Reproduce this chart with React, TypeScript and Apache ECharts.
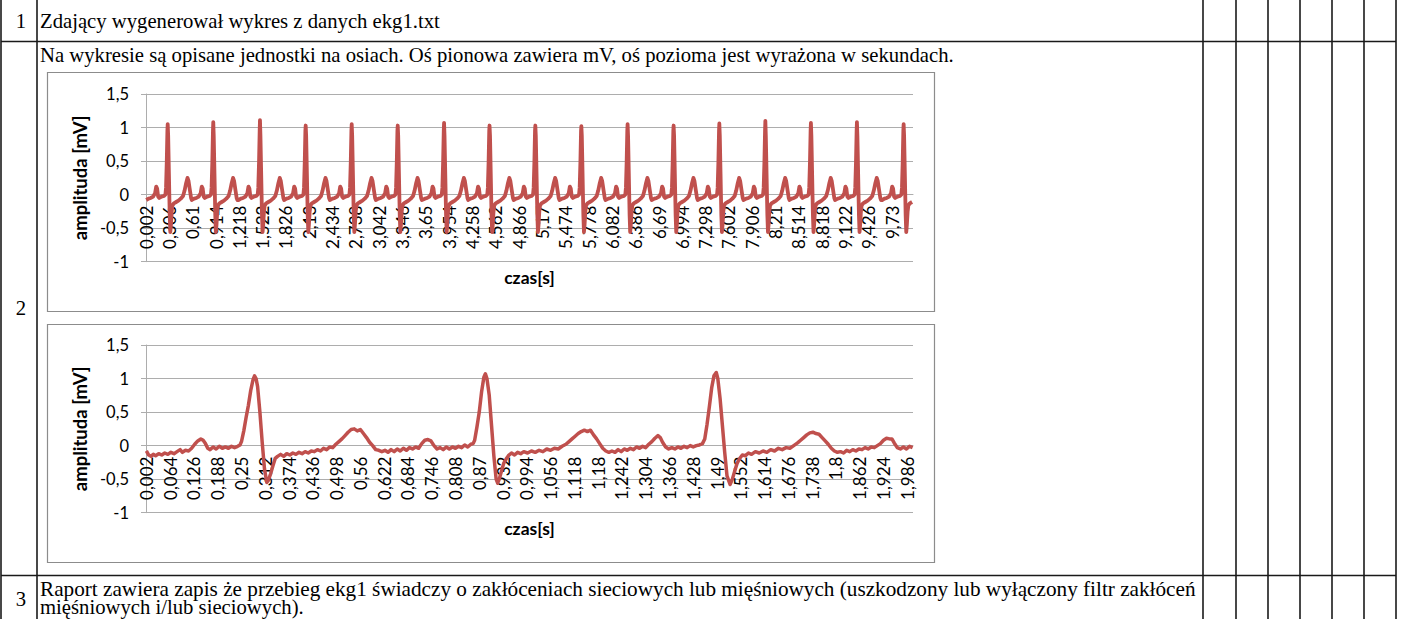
import React, { useEffect, useRef } from "react";
import * as echarts from "echarts";

// ---------- data ----------
const Y_TICKS_MIN = -1;
const Y_TICKS_MAX = 1.5;
const Y_TICKS_STEP = 0.5;

// tick labels of the 10 s chart (seconds)
const TICKS_10S = [0.002, 0.306, 0.61, 0.914, 1.218, 1.522, 1.826, 2.13, 2.434, 2.738, 3.042, 3.346, 3.65, 3.954, 4.258, 4.562, 4.866, 5.17, 5.474, 5.778, 6.082, 6.386, 6.69, 6.994, 7.298, 7.602, 7.906, 8.21, 8.514, 8.818, 9.122, 9.426, 9.73];
// tick labels of the 2 s chart (seconds)
const TICKS_2S = [0.002, 0.064, 0.126, 0.188, 0.25, 0.312, 0.374, 0.436, 0.498, 0.56, 0.622, 0.684, 0.746, 0.808, 0.87, 0.932, 0.994, 1.056, 1.118, 1.18, 1.242, 1.304, 1.366, 1.428, 1.49, 1.552, 1.614, 1.676, 1.738, 1.8, 1.862, 1.924, 1.986];

// 10 s chart: R-peak times (s) and amplitudes (mV)
const R_PEAK_TIMES = [0.284, 0.878, 1.487, 2.083, 2.683, 3.283, 3.887, 4.48, 5.077, 5.677, 6.28, 6.88, 7.476, 8.076, 8.67, 9.27, 9.879];
const R_PEAK_AMPS = [1.05, 1.08, 1.11, 1.03, 1.05, 1.03, 1.07, 1.03, 1.03, 1.02, 1.05, 1.03, 1.06, 1.1, 1.07, 1.08, 1.05];
// one beat: offset from the R peak (s), amplitude (mV); the 0 offset takes the peak amplitude
const BEAT_OFFSETS = [-0.28, -0.25, -0.22, -0.19, -0.165, -0.15, -0.138, -0.125, -0.11, -0.08, -0.05, -0.03, -0.022, -0.012, -0.004, 0, 0.006, 0.016, 0.026, 0.034, 0.042, 0.052, 0.062, 0.08, 0.11, 0.14, 0.17, 0.2, 0.22, 0.24, 0.258, 0.272, 0.29, 0.305, 0.315];
const BEAT_VALUES = [-0.08, -0.06, -0.05, -0.03, 0.02, 0.12, 0.09, -0.03, -0.05, -0.03, -0.02, 0.0, 0.1, 0.5, 0.95, 1.0, 0.88, 0.3, -0.3, -0.56, -0.45, -0.25, -0.16, -0.13, -0.11, -0.09, -0.06, -0.02, 0.06, 0.17, 0.25, 0.2, 0.06, -0.05, -0.08];

// 2 s chart: [time (s), amplitude (mV)]
const EKG_2S: [number, number][] = [
  [0.002, -0.08], [0.008, -0.14], [0.014, -0.16], [0.02, -0.13], [0.026, -0.15], [0.034, -0.12], [0.042, -0.14], [0.05, -0.11], [0.058, -0.13], [0.066, -0.1], [0.074, -0.12], [0.082, -0.09], [0.09, -0.06], [0.096, -0.1], [0.104, -0.07], [0.112, -0.08], [0.12, -0.04], [0.128, 0.02], [0.136, 0.07], [0.144, 0.1], [0.15, 0.08], [0.156, 0.03], [0.162, -0.04], [0.168, -0.06], [0.176, -0.02], [0.184, -0.05], [0.192, -0.01], [0.2, -0.04], [0.208, -0.02], [0.216, -0.04], [0.224, -0.01], [0.232, -0.03], [0.24, -0.01],
  [0.246, 0.01], [0.25, 0.06], [0.256, 0.22], [0.262, 0.42], [0.268, 0.6], [0.274, 0.82], [0.28, 0.98], [0.284, 1.04], [0.288, 1.0], [0.292, 0.88], [0.298, 0.5], [0.304, 0.05], [0.31, -0.35], [0.316, -0.55], [0.32, -0.52], [0.326, -0.42], [0.332, -0.3], [0.338, -0.19], [0.344, -0.16], [0.352, -0.13], [0.36, -0.16], [0.368, -0.12], [0.376, -0.14], [0.384, -0.11], [0.392, -0.13], [0.4, -0.1], [0.408, -0.12], [0.416, -0.09], [0.424, -0.11], [0.432, -0.08], [0.44, -0.09], [0.448, -0.06], [0.456, -0.08], [0.464, -0.04], [0.472, -0.06], [0.48, -0.02], [0.488, -0.03], [0.496, 0.02], [0.504, 0.06], [0.512, 0.1], [0.52, 0.15], [0.528, 0.2], [0.536, 0.24], [0.544, 0.25], [0.552, 0.22], [0.56, 0.24], [0.568, 0.18], [0.576, 0.12], [0.584, 0.05], [0.592, 0.0], [0.6, -0.06], [0.608, -0.07], [0.616, -0.09], [0.624, -0.07], [0.632, -0.1], [0.64, -0.06], [0.648, -0.09], [0.656, -0.05], [0.664, -0.08], [0.672, -0.04], [0.68, -0.07], [0.688, -0.03], [0.696, -0.05], [0.704, -0.02], [0.712, -0.04], [0.72, 0.03], [0.728, 0.08], [0.736, 0.09], [0.744, 0.07], [0.752, 0.0], [0.76, -0.05], [0.768, -0.03], [0.776, -0.06], [0.784, -0.02], [0.792, -0.05], [0.8, -0.02], [0.808, -0.04], [0.816, -0.01], [0.824, -0.03], [0.832, 0.01], [0.84, -0.02], [0.848, 0.02],
  [0.854, 0.03], [0.858, 0.08], [0.864, 0.28], [0.87, 0.5], [0.876, 0.8], [0.882, 1.02], [0.886, 1.07], [0.89, 1.0], [0.896, 0.75], [0.902, 0.3], [0.908, -0.15], [0.914, -0.5], [0.918, -0.56], [0.922, -0.5], [0.928, -0.38], [0.934, -0.26], [0.94, -0.2], [0.946, -0.15], [0.954, -0.11], [0.962, -0.14], [0.97, -0.1], [0.978, -0.12], [0.986, -0.09], [0.996, -0.11], [1.006, -0.08], [1.016, -0.1], [1.026, -0.07], [1.036, -0.09], [1.046, -0.05], [1.056, -0.07], [1.066, -0.04], [1.076, -0.05], [1.086, -0.01], [1.096, 0.02], [1.104, 0.06], [1.112, 0.1], [1.12, 0.14], [1.128, 0.18], [1.136, 0.21], [1.144, 0.23], [1.152, 0.21], [1.16, 0.23], [1.168, 0.16], [1.176, 0.1], [1.184, 0.03], [1.192, -0.04], [1.2, -0.08], [1.208, -0.1], [1.216, -0.08], [1.224, -0.1], [1.232, -0.06], [1.24, -0.09], [1.248, -0.05], [1.256, -0.07], [1.264, -0.04], [1.272, -0.06], [1.28, -0.02], [1.288, -0.04], [1.296, -0.01], [1.304, -0.03], [1.312, 0.02], [1.32, 0.06], [1.328, 0.11], [1.336, 0.15], [1.342, 0.12], [1.348, 0.05], [1.356, -0.02], [1.364, -0.05], [1.372, -0.03], [1.38, -0.05], [1.388, -0.02], [1.396, -0.04], [1.404, -0.01], [1.412, -0.03], [1.42, 0.0], [1.428, -0.02], [1.436, 0.0], [1.444, 0.01], [1.452, 0.03],
  [1.458, 0.1], [1.464, 0.32], [1.47, 0.58], [1.476, 0.86], [1.482, 1.04], [1.488, 1.09], [1.492, 1.0], [1.498, 0.7], [1.504, 0.3], [1.51, -0.1], [1.516, -0.45], [1.524, -0.58], [1.53, -0.5], [1.536, -0.38], [1.542, -0.27], [1.548, -0.2], [1.556, -0.14], [1.564, -0.15], [1.572, -0.11], [1.58, -0.13], [1.59, -0.09], [1.6, -0.11], [1.61, -0.08], [1.62, -0.1], [1.63, -0.06], [1.64, -0.08], [1.65, -0.04], [1.66, -0.06], [1.67, -0.03], [1.68, -0.04], [1.69, 0.0], [1.7, 0.04], [1.708, 0.08], [1.716, 0.12], [1.724, 0.16], [1.732, 0.19], [1.74, 0.2], [1.748, 0.18], [1.756, 0.17], [1.764, 0.12], [1.772, 0.07], [1.78, 0.02], [1.788, -0.04], [1.796, -0.08], [1.804, -0.1], [1.812, -0.09], [1.82, -0.11], [1.828, -0.07], [1.836, -0.09], [1.844, -0.06], [1.852, -0.08], [1.86, -0.05], [1.868, -0.06], [1.876, -0.03], [1.884, -0.05], [1.892, -0.02], [1.9, -0.03], [1.908, 0.0], [1.916, 0.03], [1.924, 0.08], [1.932, 0.11], [1.94, 0.1], [1.946, 0.1], [1.952, 0.04], [1.96, -0.03], [1.968, -0.05], [1.976, -0.02], [1.984, -0.05], [1.992, -0.01], [2.0, -0.03],
];

// table texts
const ROW_NUMBERS = ["1", "2", "3"];
const ROW1_TEXT = "Zdający wygenerował wykres z danych ekg1.txt";
const ROW2_TEXT = "Na wykresie są opisane jednostki na osiach. Oś pionowa zawiera mV, oś pozioma jest wyrażona w sekundach.";
const ROW3_LINES = [
  "Raport zawiera zapis że przebieg ekg1 świadczy o zakłóceniach sieciowych lub mięśniowych (uszkodzony lub wyłączony filtr zakłóceń",
  "mięśniowych i/lub sieciowych).",
];
const Y_NAME = "amplituda [mV]";
const X_NAME = "czas[s]";

// build the 10 s trace from the beats read above
function build10s(): [number, number][] {
  const out: [number, number][] = [];
  let last = -1;
  R_PEAK_TIMES.forEach((r, bi) => {
    BEAT_OFFSETS.forEach((dt, i) => {
      const t = +(r + dt).toFixed(3);
      if (t < 0.002 || t > 10.0 || t <= last) return;
      const v = dt === 0 ? R_PEAK_AMPS[bi] : BEAT_VALUES[i];
      out.push([t, v]);
      last = t;
    });
  });
  return out;
}

const W = 1402;
const H = 619;
const RED = "#C0504D";
const GRID_GRAY = "#ADADAD";
const SANS = "Lato";
const SERIF = "Liberation Serif";
const PLOT_H = 167.7;
// the time axis crosses the amplitude axis at 0 mV
const ZERO_OFFSET = -PLOT_H * (0 - Y_TICKS_MIN) / (Y_TICKS_MAX - Y_TICKS_MIN);

const fmt = (v: number) => String(v).replace(".", ",");

function makeAxes(gridIndex: number, max: number, ticks: number[]) {
  const x = {
    type: "value",
    gridIndex,
    position: "bottom",
    offset: ZERO_OFFSET,
    min: 0.001,
    max,
    name: X_NAME,
    nameLocation: "middle",
    nameGap: 74,
    nameTextStyle: { fontFamily: SANS, fontWeight: "bold", fontSize: 17.5, color: "#000" },
    axisLine: { show: true, onZero: false, lineStyle: { color: GRID_GRAY, width: 1 } },
    axisTick: { show: false },
    splitLine: { show: false },
    axisLabel: {
      customValues: ticks,
      formatter: (v: number) => fmt(v),
      rotate: 90,
      margin: 11,
      fontFamily: SANS,
      fontSize: 17,
      color: "#000",
    },
  };
  const y = {
    type: "value",
    gridIndex,
    min: Y_TICKS_MIN,
    max: Y_TICKS_MAX,
    interval: Y_TICKS_STEP,
    name: Y_NAME,
    nameLocation: "middle",
    nameGap: 50,
    nameTextStyle: { fontFamily: SANS, fontWeight: "bold", fontSize: 18.5, color: "#000" },
    axisLine: { show: true, lineStyle: { color: GRID_GRAY, width: 1 } },
    axisTick: { show: true, length: 5, lineStyle: { color: GRID_GRAY } },
    splitLine: { show: true, lineStyle: { color: GRID_GRAY, width: 1.2 } },
    axisLabel: {
      formatter: (v: number) => fmt(v),
      margin: 17,
      fontFamily: SANS,
      fontSize: 16.5,
      color: "#000",
    },
  };
  return { x, y };
}

export default function App() {
  const ref = useRef<HTMLDivElement>(null);
  useEffect(() => {
    document.body.style.margin = "0";
    const chart = echarts.init(ref.current!, undefined, { renderer: "svg", width: W, height: H });
    const a1 = makeAxes(0, 10.001, TICKS_10S);
    const a2 = makeAxes(1, 2.001, TICKS_2S);

    const lineStyle = { stroke: "#1a1a1a", lineWidth: 1.6 };
    const vLines = [1, 37, 1203, 1236, 1268, 1300, 1332, 1364, 1396];
    const hLines = [41.5, 575.5];
    const graphics: any[] = [];
    vLines.forEach((x) =>
      graphics.push({ type: "line", shape: { x1: x, y1: 0, x2: x, y2: H }, style: lineStyle, silent: true })
    );
    hLines.forEach((y) =>
      graphics.push({ type: "line", shape: { x1: 1, y1: y, x2: 1396, y2: y }, style: lineStyle, silent: true })
    );
    // chart frames
    [[47.5, 72.5, 887, 239], [47.5, 324.5, 887, 238]].forEach(([x, y, w, h]) =>
      graphics.push({
        type: "rect",
        shape: { x, y, width: w, height: h },
        style: { fill: "none", stroke: "#8C8C8C", lineWidth: 1.2 },
        silent: true,
      })
    );
    const txt = (text: string, x: number, y: number, align = "left", scaleX = 1) => ({
      type: "text",
      x,
      y,
      scaleX,
      silent: true,
      style: {
        text,
        fontFamily: SERIF,
        fontSize: 20.7,
        fill: "#000",
        align,
        textAlign: align,
        verticalAlign: "middle",
        textVerticalAlign: "middle",
      },
    });
    graphics.push(txt(ROW_NUMBERS[0], 21, 21, "center"));
    graphics.push(txt(ROW_NUMBERS[1], 21, 308, "center"));
    graphics.push(txt(ROW_NUMBERS[2], 21, 599, "center"));
    graphics.push(txt(ROW1_TEXT, 40, 21));
    graphics.push(txt(ROW2_TEXT, 40, 55));
    graphics.push(txt(ROW3_LINES[0], 40, 589, "left", 1.025));
    graphics.push(txt(ROW3_LINES[1], 40, 607));

    chart.setOption({
      animation: false,
      backgroundColor: "#fff",
      grid: [
        { left: 146, width: 767, top: 94, height: PLOT_H },
        { left: 146, width: 767, top: 345, height: PLOT_H },
      ],
      xAxis: [a1.x, a2.x],
      yAxis: [a1.y, a2.y],
      series: [
        {
          type: "line",
          xAxisIndex: 0,
          yAxisIndex: 0,
          data: build10s(),
          showSymbol: false,
          symbol: "none",
          lineStyle: { color: RED, width: 3.8, join: "round" },
          z: 3,
        },
        {
          type: "line",
          xAxisIndex: 1,
          yAxisIndex: 1,
          data: EKG_2S,
          showSymbol: false,
          symbol: "none",
          lineStyle: { color: RED, width: 3.5, join: "round" },
          z: 3,
        },
      ],
      graphic: graphics,
    });
    return () => chart.dispose();
  }, []);
  return <div ref={ref} style={{ position: "absolute", left: 0, top: 0, width: W, height: H }} />;
}
